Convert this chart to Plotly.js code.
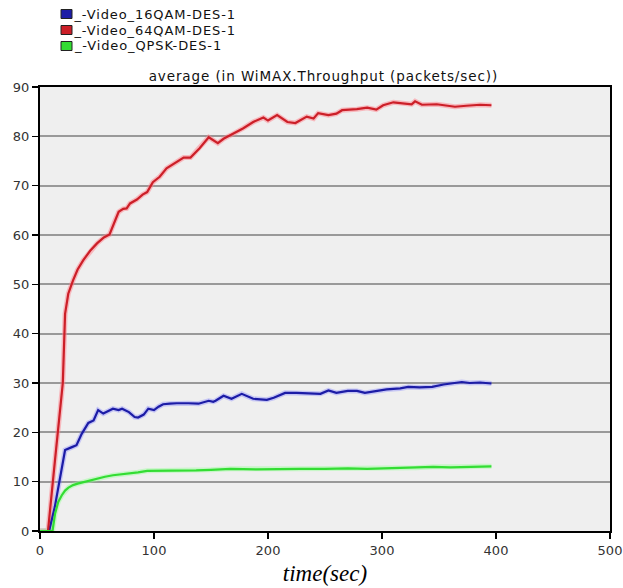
<!DOCTYPE html>
<html>
<head>
<meta charset="utf-8">
<script src="https://cdn.plot.ly/plotly-3.0.1.min.js"></script>
<style>
html,body{margin:0;padding:0;background:#fff;}
#chart{width:623px;height:588px;}
#chart .annotation-text{letter-spacing:0.9px;}
</style>
</head>
<body>
<div id="chart"></div>
<script>
// Series names
const seriesNames = ["_-Video_16QAM-DES-1", "_-Video_64QAM-DES-1", "_-Video_QPSK-DES-1"];
const seriesColors = ["#1c1ca6", "#cc1f28", "#33dd33"];

// _-Video_16QAM-DES-1 (blue)
const qam16Time = [0, 8, 13, 17.5, 22, 28, 32, 36.6, 42.4, 47, 51, 55.5, 61, 64, 69, 72, 78, 83, 86, 91, 95, 100, 104, 108, 114, 120, 130, 139, 148, 152, 154, 161, 168, 177, 187, 199, 205, 215, 225, 233, 240, 246, 253, 260, 270, 278, 285, 294, 304, 316, 323, 333, 344, 354, 362, 370, 377, 386, 396];
const qam16Vals = [0, 0, 4.9, 10.3, 16.4, 17.0, 17.4, 19.7, 21.9, 22.4, 24.5, 23.8, 24.5, 24.8, 24.5, 24.8, 24.1, 23.1, 23.0, 23.6, 24.8, 24.5, 25.2, 25.7, 25.8, 25.9, 25.9, 25.8, 26.4, 26.2, 26.4, 27.4, 26.8, 27.8, 26.8, 26.6, 27.0, 28.0, 28.0, 27.9, 27.8, 27.8, 28.5, 28.0, 28.4, 28.4, 28.0, 28.4, 28.7, 28.9, 29.2, 29.1, 29.2, 29.7, 30.0, 30.2, 30.0, 30.1, 29.9];

// _-Video_64QAM-DES-1 (red)
const qam64Time = [0, 7, 13, 20, 22, 24.8, 29, 33, 38, 44, 50, 56, 61, 65, 69, 73, 76, 79, 85, 90, 94, 99, 105, 111, 118, 126, 132, 140, 148, 156, 161, 167, 173, 178, 187, 196, 200, 208, 217, 224, 234, 240, 244, 253, 260, 265, 278, 287, 295, 301, 310, 319, 326, 329, 335, 348, 357, 364, 374, 386, 396];
const qam64Vals = [0, 0, 14, 30, 44, 48.1, 50.8, 53, 54.9, 56.8, 58.3, 59.5, 60.1, 62.5, 64.7, 65.3, 65.4, 66.4, 67.2, 68.2, 68.7, 70.7, 71.8, 73.5, 74.6, 75.7, 75.7, 77.6, 79.8, 78.6, 79.5, 80.2, 80.9, 81.6, 82.9, 83.8, 83.2, 84.3, 82.9, 82.7, 84.0, 83.6, 84.7, 84.3, 84.6, 85.3, 85.5, 85.8, 85.4, 86.3, 86.9, 86.7, 86.5, 87.1, 86.4, 86.5, 86.3, 86.0, 86.2, 86.4, 86.3];

// _-Video_QPSK-DES-1 (green)
const qpskTime = [0, 11, 13.2, 16, 19, 22, 25, 29, 33, 38, 44, 50, 57, 64, 72, 79, 86, 94, 101, 108, 120, 137, 150, 167, 190, 210, 228, 250, 270, 287, 310, 330, 345, 360, 375, 386, 396];
const qpskVals = [0, 0, 3.5, 5.9, 7.2, 8.2, 8.8, 9.3, 9.6, 9.9, 10.3, 10.6, 11.0, 11.3, 11.5, 11.6, 11.9, 12.2, 12.2, 12.3, 12.2, 12.3, 12.4, 12.6, 12.5, 12.6, 12.6, 12.6, 12.7, 12.6, 12.7, 12.8, 13.0, 12.9, 13.0, 13.1, 13.1];

// Axis ticks
const xTicks = [0, 100, 200, 300, 400, 500];
const yTicks = [0, 10, 20, 30, 40, 50, 60, 70, 80, 90];

const chartTitle = "average (in WiMAX.Throughput (packets/sec))";
const xTitle = "time(sec)";

const times = [qam16Time, qam64Time, qpskTime];
const vals = [qam16Vals, qam64Vals, qpskVals];
const halo = ["rgba(120,120,255,0.35)", "rgba(255,130,140,0.5)", "rgba(150,255,150,0.45)"];

const traces = [];
for (let i = 0; i < 3; i++) {
  traces.push({x: times[i], y: vals[i], mode: "lines", showlegend: false, hoverinfo: "skip",
    line: {color: halo[i], width: 5}});
}
for (let i = 0; i < 3; i++) {
  traces.push({x: times[i], y: vals[i], mode: "lines", name: seriesNames[i], showlegend: false,
    line: {color: seriesColors[i], width: 2.2}});
}

const shapes = [];
const annotations = [];
const legendY = [14, 30, 46];
const H = 588;
for (let i = 0; i < 3; i++) {
  shapes.push({type: "rect", xref: "paper", yref: "paper",
    x0: (61 - 40) / 570, x1: (72 - 40) / 570,
    y0: (H - 57 - (legendY[i] + 4.5)) / (H - 57 - 87),
    y1: (H - 57 - (legendY[i] - 4.5)) / (H - 57 - 87),
    fillcolor: seriesColors[i], line: {color: "#222", width: 1}});
  annotations.push({xref: "paper", yref: "paper", x: (80 - 40) / 570,
    y: (H - 57 - legendY[i]) / (H - 57 - 87), xanchor: "left", yanchor: "middle",
    text: seriesNames[i], showarrow: false,
    font: {family: "DejaVu Sans, Arial, sans-serif", size: 13, color: "#111"}});
}
annotations.push({xref: "paper", yref: "paper", x: (323 - 40) / 570,
  y: (H - 57 - 76) / (H - 57 - 87), xanchor: "center", yanchor: "middle",
  text: chartTitle, showarrow: false,
  font: {family: "DejaVu Sans, Arial, sans-serif", size: 13.5, color: "#111"}});

const layout = {
  width: 623, height: 588,
  margin: {l: 40, r: 13, t: 87, b: 57, pad: 0},
  paper_bgcolor: "#ffffff",
  plot_bgcolor: "#efefef",
  showlegend: false,
  xaxis: {
    range: [0, 500], tickvals: xTicks, ticktext: xTicks.map(String),
    ticks: "outside", ticklen: 6, tickwidth: 1.5, tickcolor: "#000",
    showline: true, linecolor: "#000", linewidth: 2, mirror: true,
    showgrid: false, zeroline: false,
    tickfont: {family: "DejaVu Sans, Arial, sans-serif", size: 13, color: "#333"},
    title: {text: xTitle, standoff: 8,
      font: {family: "Liberation Serif, Times New Roman, serif", size: 23, color: "#000", style: "italic"}}
  },
  yaxis: {
    range: [0, 90], tickvals: yTicks, ticktext: yTicks.map(String),
    ticks: "outside", ticklen: 6, tickwidth: 1.5, tickcolor: "#000",
    showline: true, linecolor: "#000", linewidth: 2, mirror: true,
    showgrid: true, gridcolor: "#999999", gridwidth: 2, zeroline: false,
    tickfont: {family: "DejaVu Sans, Arial, sans-serif", size: 13, color: "#333"}
  },
  shapes: shapes,
  annotations: annotations
};

Plotly.newPlot("chart", traces, layout, {displayModeBar: false, staticPlot: true});
</script>
</body>
</html>
